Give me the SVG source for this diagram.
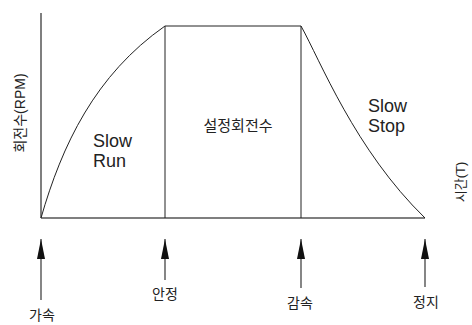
<svg xmlns="http://www.w3.org/2000/svg" width="472" height="325" viewBox="0 0 472 325">
  <style>
    .t { font-family: "Liberation Sans", "Noto Sans CJK KR", sans-serif; fill: #222; }
    .lbl { font-size: 14px; text-anchor: middle; }
    .big { font-size: 18px; }
    .ax { stroke: #555; stroke-width: 1.5; fill: none; }
    .ln { stroke: #222; stroke-width: 1; fill: none; }
    .arr { stroke: #444; stroke-width: 1.3; fill: none; marker-end: url(#head); }
  </style>
  <defs>
    <marker id="head" markerUnits="userSpaceOnUse" markerWidth="20" markerHeight="8" viewBox="0 0 20 8" refX="20" refY="4" orient="auto">
      <path d="M0,0 L20,4 L0,8 z" fill="#111"/>
    </marker>
  </defs>
  <rect width="472" height="325" fill="#fff"/>
  <g id="axes">
    <line class="ax" x1="41" y1="13" x2="41" y2="218"/>
    <line class="ax" x1="41" y1="218" x2="425" y2="218"/>
    <text class="t" font-size="14" text-anchor="middle" transform="translate(25,113) rotate(-90)">회전수(RPM)</text>
    <text class="t" font-size="13" text-anchor="middle" transform="translate(465,182) rotate(-90)">시간(T)</text>
  </g>
  <g id="profile">
    <path class="ln" d="M41,218 C62,145 95,75 165,26"/>
    <path class="ln" d="M165,26 L301,26"/>
    <path class="ln" d="M165,26 L165,218"/>
    <path class="ln" d="M301,26 L301,218"/>
    <path class="ln" d="M301,26 C320,60 355,150 425,218"/>
  </g>
  <g id="slow-run">
    <text class="t big" x="93" y="147">Slow</text>
    <text class="t big" x="93" y="167">Run</text>
  </g>
  <g id="set-speed">
    <text class="t" font-size="15" text-anchor="middle" x="238" y="131">설정회전수</text>
  </g>
  <g id="slow-stop">
    <text class="t big" x="368" y="112">Slow</text>
    <text class="t big" x="368" y="132">Stop</text>
  </g>
  <g id="connectors">
    <line class="arr" x1="41" y1="300" x2="41" y2="239"/>
    <line class="arr" x1="165" y1="280" x2="165" y2="239"/>
    <line class="arr" x1="301" y1="288" x2="301" y2="239"/>
    <line class="arr" x1="425" y1="287" x2="425" y2="239"/>
  </g>
  <g id="accel"><text class="t lbl" x="42" y="320">가속</text></g>
  <g id="stable"><text class="t lbl" x="165" y="299">안정</text></g>
  <g id="decel"><text class="t lbl" x="300" y="308">감속</text></g>
  <g id="stop"><text class="t lbl" x="426" y="307">정지</text></g>
</svg>
